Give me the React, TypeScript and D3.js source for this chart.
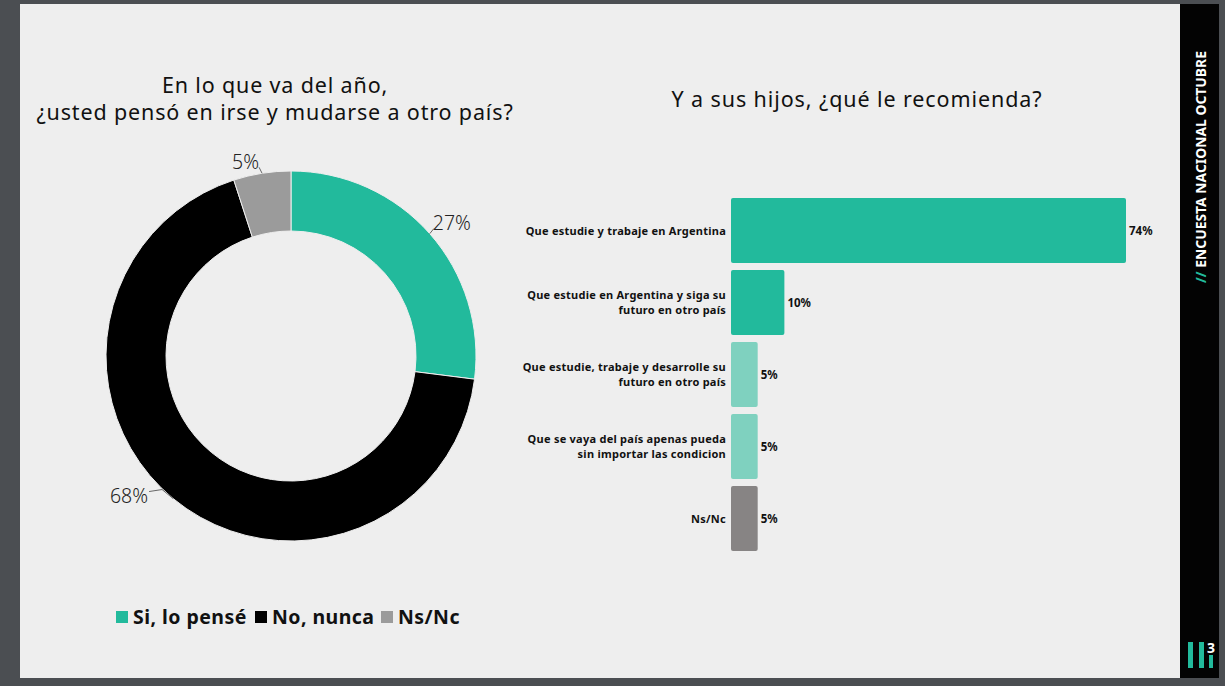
import React from "react";
import * as d3 from "d3";

const donutLabels = ["Si, lo pensé", "No, nunca", "Ns/Nc"];
const donutValues = [27, 68, 5];
const donutColors = ["#22BA9C", "#000000", "#9B9B9B"];

const barCategories = [
  ["Que estudie y trabaje en Argentina"],
  ["Que estudie en Argentina y siga su", "futuro en otro país"],
  ["Que estudie, trabaje y desarrolle su", "futuro en otro país"],
  ["Que se vaya del país apenas pueda", "sin importar las condicion"],
  ["Ns/Nc"],
];
const barValues = [74, 10, 5, 5, 5];
const barColors = ["#22BA9C", "#22BA9C", "#7FD1BF", "#7FD1BF", "#878484"];

const W = 1225;
const H = 686;
const FONT = "'Noto Sans', 'Open Sans', sans-serif";

export default function App() {
  // donut
  const cx = 291;
  const cy = 356;
  const rOuter = 185;
  const rInner = 125;
  const pie = d3.pie<number>().sort(null).value((d) => d)(donutValues);
  const arc = d3.arc<d3.PieArcDatum<number>>().innerRadius(rInner).outerRadius(rOuter);

  // bars
  const x = d3.scaleLinear().domain([0, 74]).range([731, 1126]);
  const y = d3
    .scaleBand<number>()
    .domain(barValues.map((_, i) => i))
    .range([198, 198 + 5 * 72 - 7])
    .paddingInner(7 / 72)
    .paddingOuter(0);

  // leader-line offsets per slice: [dx1, dy1, dx2, dy2, labelDx, labelDy, anchor]
  const leader: [number, number, number, number, number, number, string][] = [
    [4, -5, 0, 0, -1, 1, "start"],
    [-11, -9, -13, 2, -1, 11, "end"],
    [-3, -6, 0, 0, 0, 2, "end"],
  ];

  return (
    <svg
      width={W}
      height={H}
      style={{ position: "absolute", left: 0, top: 0 }}
      xmlns="http://www.w3.org/2000/svg"
    >
      <rect x={0} y={0} width={W} height={H} fill="#4B4E52" />
      <rect x={20} y={4} width={1160} height={674} fill="#EEEEEE" />
      <rect x={1180} y={4} width={39} height={674} fill="#030303" />

      {/* vertical header */}
      <g transform="translate(1205.5,283) rotate(-90)">
        <text x={0} y={0} fontFamily={FONT} fontWeight={700} fontSize={13.8} letterSpacing={0.05} fill="#FFFFFF">
          <tspan fill="#22BA9C">//</tspan>
          <tspan> ENCUESTA NACIONAL OCTUBRE</tspan>
        </text>
      </g>
      {/* logo */}
      <rect x={1188} y={642} width={5} height={26} fill="#22BA9C" />
      <rect x={1199} y={642} width={5} height={26} fill="#22BA9C" />
      <rect x={1209} y={655} width={4} height={13} fill="#22BA9C" />
      <text x={1211} y={653} fontFamily={FONT} fontWeight={700} fontSize={14} fill="#FFFFFF" textAnchor="middle">
        3
      </text>

      {/* left title */}
      <text x={275} y={93} textAnchor="middle" fontFamily={FONT} fontSize={21.5} letterSpacing={0.85} fill="#111">
        En lo que va del año,
      </text>
      <text x={275} y={120} textAnchor="middle" fontFamily={FONT} fontSize={21.5} letterSpacing={0.85} fill="#111">
        ¿usted pensó en irse y mudarse a otro país?
      </text>

      {/* donut */}
      <g transform={`translate(${cx},${cy})`}>
        {pie.map((p, i) => (
          <path key={i} d={arc(p) || ""} fill={donutColors[i]} stroke="#EEEEEE" strokeWidth={1} />
        ))}
        {pie.map((p, i) => {
          const a = (p.startAngle + p.endAngle) / 2;
          const x0 = Math.sin(a) * rOuter;
          const y0 = -Math.cos(a) * rOuter;
          const [dx1, dy1, dx2, dy2, ldx, ldy, anchor] = leader[i];
          const x1 = x0 + dx1;
          const y1 = y0 + dy1;
          const x2 = x1 + dx2;
          const y2 = y1 + dy2;
          return (
            <g key={"l" + i}>
              <polyline
                points={`${x0},${y0} ${x1},${y1} ${x2},${y2}`}
                fill="none"
                stroke="#444"
                strokeWidth={0.8}
              />
              <text
                x={x2 + ldx}
                y={y2 + ldy}
                textAnchor={anchor}
                fontFamily={FONT}
                fontWeight={300}
                fontSize={19.5}
                fill="#222"
              >
                {donutValues[i]}%
              </text>
            </g>
          );
        })}
      </g>

      {/* legend */}
      {(() => {
        const starts = [116, 255, 381];
        return donutLabels.map((l, i) => (
          <g key={"lg" + i}>
            <rect x={starts[i]} y={611} width={12} height={12} fill={donutColors[i]} />
            <text
              x={starts[i] + 17}
              y={624}
              fontFamily={FONT}
              fontWeight={700}
              fontSize={19.5}
              letterSpacing={0.45}
              fill="#111"
            >
              {l}
            </text>
          </g>
        ));
      })()}

      {/* right title */}
      <text x={857} y={107} textAnchor="middle" fontFamily={FONT} fontSize={21.5} letterSpacing={0.9} fill="#111">
        Y a sus hijos, ¿qué le recomienda?
      </text>

      {/* bars */}
      {barValues.map((v, i) => {
        const by = y(i) as number;
        const bh = y.bandwidth();
        const lines = barCategories[i];
        const mid = by + bh / 2;
        return (
          <g key={"b" + i}>
            <rect x={x(0)} y={by} width={x(v) - x(0)} height={bh} rx={2} fill={barColors[i]} />
            <text
              x={x(v) + 3}
              y={mid + 4}
              fontFamily={FONT}
              fontWeight={700}
              fontSize={11.5}
              fill="#111"
            >
              {v}%
            </text>
            {lines.map((t, j) => (
              <text
                key={j}
                x={726}
                y={mid + 4 + (j - (lines.length - 1) / 2) * 14.5}
                textAnchor="end"
                fontFamily={FONT}
                fontWeight={700}
                fontSize={11}
                letterSpacing={0.25}
                fill="#111"
              >
                {t}
              </text>
            ))}
          </g>
        );
      })}
    </svg>
  );
}
